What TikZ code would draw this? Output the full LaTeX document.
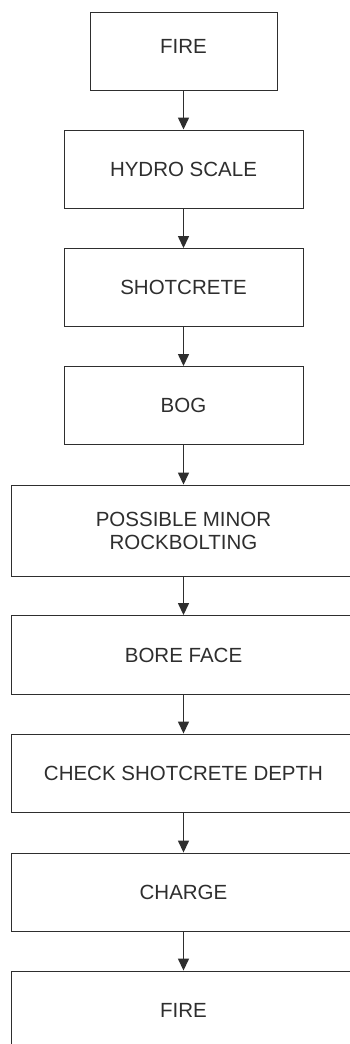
\documentclass[tikz,border=0pt]{standalone}
\usepackage{fontspec}
\setmainfont{Liberation Sans}
\usetikzlibrary{arrows.meta}
\definecolor{ink}{HTML}{2E2E2E}
\tikzset{
  stepbox/.style={draw=ink, line width=0.9pt, text=ink, align=center,
    inner sep=0pt, font=\fontsize{20.5}{23}\selectfont, fill=white},
  narrowbox/.style={stepbox, minimum width=187pt, minimum height=78pt},
  midbox/.style={stepbox, minimum width=239pt, minimum height=78pt},
  widebox/.style={stepbox, minimum width=345pt, minimum height=78pt},
  flow/.style={draw=ink, line width=1.4pt, -{Triangle[width=11pt,length=12pt]}}
}
\begin{document}
\begin{tikzpicture}[x=1pt,y=-1pt]
\useasboundingbox (0,0) rectangle (350,1044);
\clip (0,0) rectangle (350,1044);
\fill[white] (0,0) rectangle (350,1044);
\node[narrowbox, text depth=10pt] (fire1) at (183.5,51) {FIRE};
\node[midbox] (hydro) at (183.5,169) {HYDRO SCALE};
\node[midbox] (shot) at (183.5,287.5) {SHOTCRETE};
\node[midbox] (bog) at (183.5,405.5) {BOG};
\node[widebox, minimum height=91pt] (rock) at (183.5,530.5) {POSSIBLE MINOR\\ROCKBOLTING};
\node[widebox, minimum height=79pt] (bore) at (183.5,655) {BORE FACE};
\node[widebox] (check) at (183.5,773) {CHECK SHOTCRETE DEPTH};
\node[widebox] (charge) at (183.5,892) {CHARGE};
\node[widebox] (fire2) at (183.5,1010) {FIRE};
\draw[flow] (fire1) -- (hydro);
\draw[flow] (hydro) -- (shot);
\draw[flow] (shot) -- (bog);
\draw[flow] (bog) -- (rock);
\draw[flow] (rock) -- (bore);
\draw[flow] (bore) -- (check);
\draw[flow] (check) -- (charge);
\draw[flow] (charge) -- (fire2);
\end{tikzpicture}
\end{document}
